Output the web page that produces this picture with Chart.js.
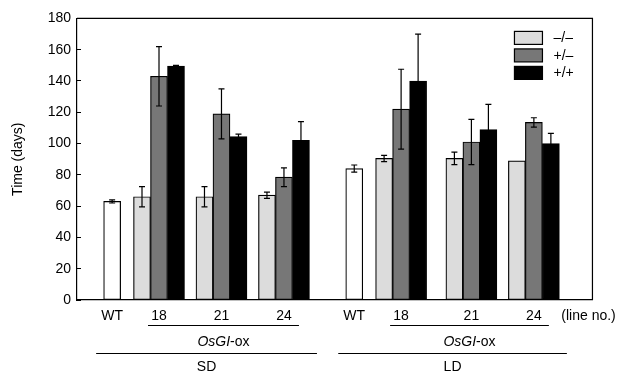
<!DOCTYPE html>
<html>
<head>
<meta charset="utf-8">
<script src="https://cdn.jsdelivr.net/npm/chart.js@4"></script>
<style>
  html, body { margin: 0; padding: 0; background: #fff; }
  #wrap { width: 624px; height: 375px; }
</style>
</head>
<body>
<div id="wrap"><canvas id="flowerChart"></canvas></div>
<script>
// values, one entry per line: SD WT, 18, 21, 24, LD WT, 18, 21, 24
const conditions = ['SD', 'LD'];
const lineLabels = ['WT', '18', '21', '24', 'WT', '18', '21', '24'];
const genotypes = ['–/–', '+/–', '+/+'];
const wtDays = [63, null, null, null, 84, null, null, null];
const wtErr = [1, null, null, null, 2.3, null, null, null];
const minusDays = [null, 66, 66, 67, null, 90.5, 90.5, 89];
const minusErr = [null, 6.5, 6.5, 2, null, 2, 4, null];
const hetDays = [null, 143, 119, 78.5, null, 122, 101, 113.5];
const hetErr = [null, 19, 16, 6, null, 25.5, 14.5, 3];
const homoDays = [null, 149.5, 104.5, 102, null, 140, 109, 100];
const homoErr = [null, 0.5, 1.5, 12, null, 30, 16, 6.5];

// layout: the x axis is cut into narrow slots so the groups sit unevenly like the figure
const slotCount = 66;
const slotOf = [4, 10, 18, 26, 35, 41, 50, 58];
const unitSlot = 65;

const labels = Array(slotCount).fill('');
slotOf.forEach((s, i) => { labels[s] = lineLabels[i]; });
labels[unitSlot] = '(line no.)';

const spread = (arr) => {
  const out = Array(slotCount).fill(null);
  slotOf.forEach((s, i) => { out[s] = arr[i]; });
  return out;
};

const FONT = "'Liberation Sans', Arial, Helvetica, sans-serif";
Chart.defaults.font.family = FONT;
Chart.defaults.color = '#000';

const errorBars = {
  id: 'errorBars',
  afterDatasetsDraw(chart) {
    const { ctx, scales: { y } } = chart;
    ctx.save();
    ctx.strokeStyle = '#000';
    ctx.lineWidth = 1.2;
    chart.data.datasets.forEach((ds, di) => {
      const meta = chart.getDatasetMeta(di);
      meta.data.forEach((bar, i) => {
        const v = ds.data[i], e = ds.errors[i];
        if (v == null || e == null) return;
        const top = y.getPixelForValue(v + e);
        const bot = y.getPixelForValue(v - e);
        ctx.beginPath();
        ctx.moveTo(bar.x, top); ctx.lineTo(bar.x, bot);
        ctx.moveTo(bar.x - 3, top); ctx.lineTo(bar.x + 3, top);
        ctx.moveTo(bar.x - 3, bot); ctx.lineTo(bar.x + 3, bot);
        ctx.stroke();
      });
    });
    ctx.restore();
  }
};

const decorations = {
  id: 'decorations',
  afterDraw(chart) {
    const { ctx, chartArea: area } = chart;
    const xs = chart.scales.x;
    ctx.save();
    ctx.strokeStyle = '#000';
    ctx.lineWidth = 1.2;

    // frame: top and right sides
    ctx.beginPath();
    ctx.moveTo(area.left, area.top); ctx.lineTo(area.right, area.top);
    ctx.lineTo(area.right, area.bottom);
    ctx.stroke();

    // legend inside the plot
    const fills = ['#dcdcdc', '#777777', '#000000'];
    ctx.font = '14px ' + FONT;
    ctx.textBaseline = 'middle';
    ctx.textAlign = 'left';
    genotypes.forEach((g, i) => {
      const bx = area.right - 78, by = area.top + 13 + i * 17.5;
      ctx.fillStyle = fills[i];
      ctx.fillRect(bx, by, 28, 13);
      ctx.strokeRect(bx, by, 28, 13);
      ctx.fillStyle = '#000';
      ctx.fillText(g, area.right - 39, by + 7);
    });

    // group brackets under the axis
    const px = (i) => xs.getPixelForValue(slotOf[i]);
    ctx.lineWidth = 1;
    conditions.forEach((cond, c) => {
      const b = c * 4;
      const wt = px(b), g1 = px(b + 1), g3 = px(b + 3);
      const a1 = g1 - 11, a2 = g3 + 15;
      const c1 = wt - 16, c2 = g3 + 33;
      ctx.beginPath();
      ctx.moveTo(a1, area.bottom + 25.5); ctx.lineTo(a2, area.bottom + 25.5);
      ctx.moveTo(c1, area.bottom + 53.5); ctx.lineTo(c2, area.bottom + 53.5);
      ctx.stroke();

      // OsGI-ox with the gene name in italics
      const italic = 'italic 14px ' + FONT, plain = '14px ' + FONT;
      ctx.font = italic;
      const w1 = ctx.measureText('OsGI').width;
      ctx.font = plain;
      const w2 = ctx.measureText('-ox').width;
      let tx = (a1 + a2) / 2 - (w1 + w2) / 2;
      ctx.textAlign = 'left';
      ctx.font = italic;
      ctx.fillText('OsGI', tx, area.bottom + 42);
      ctx.font = plain;
      ctx.fillText('-ox', tx + w1, area.bottom + 42);

      ctx.textAlign = 'center';
      ctx.fillText(cond, (c1 + c2) / 2, area.bottom + 67);
    });
    ctx.restore();
  }
};

const barStyle = {
  borderColor: '#000',
  borderWidth: 1.2,
  borderSkipped: false,
  barThickness: 17,
  skipNull: true
};

new Chart(document.getElementById('flowerChart').getContext('2d'), {
  type: 'bar',
  data: {
    labels: labels,
    datasets: [
      { label: 'WT', data: spread(wtDays), errors: spread(wtErr), backgroundColor: '#ffffff', ...barStyle },
      { label: genotypes[0], data: spread(minusDays), errors: spread(minusErr), backgroundColor: '#dcdcdc', ...barStyle },
      { label: genotypes[1], data: spread(hetDays), errors: spread(hetErr), backgroundColor: '#777777', ...barStyle },
      { label: genotypes[2], data: spread(homoDays), errors: spread(homoErr), backgroundColor: '#000000', ...barStyle }
    ]
  },
  options: {
    responsive: true,
    maintainAspectRatio: false,
    animation: false,
    layout: { padding: { top: 15, right: 29, left: 0, bottom: 0 } },
    plugins: {
      legend: { display: false },
      tooltip: { enabled: false }
    },
    scales: {
      x: {
        grid: { display: false, drawTicks: false },
        border: { display: true, color: '#000', width: 1.2 },
        ticks: { autoSkip: false, maxRotation: 0, minRotation: 0, padding: 8, font: { size: 14 }, color: '#000' },
        afterFit: (scale) => { scale.height = 75; }
      },
      y: {
        min: 0,
        max: 180,
        grid: { drawOnChartArea: false, drawTicks: true, tickLength: -4, color: '#000', lineWidth: 1 },
        border: { display: true, color: '#000', width: 1.2 },
        ticks: { stepSize: 20, padding: 10, font: { size: 14 }, color: '#000' },
        title: { display: true, text: 'Time (days)', font: { size: 14 }, color: '#000', padding: { top: 10, bottom: 0 } },
        afterFit: (scale) => { scale.width = 77; }
      }
    }
  },
  plugins: [errorBars, decorations]
});
</script>
</body>
</html>
